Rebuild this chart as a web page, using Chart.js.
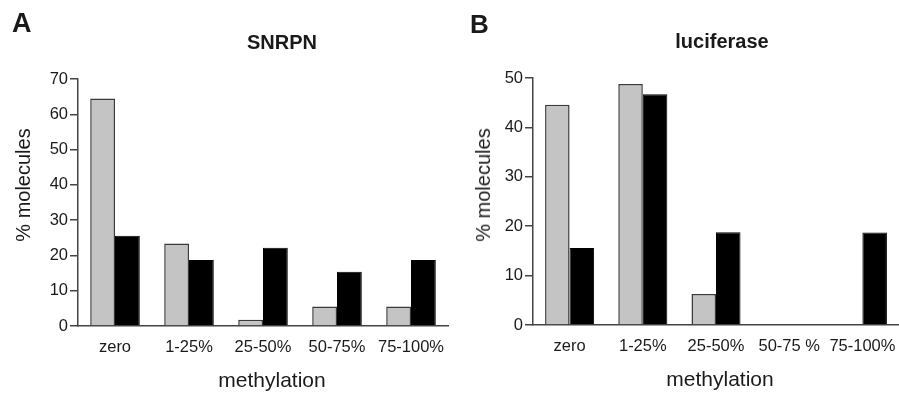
<!DOCTYPE html>
<html>
<head>
<meta charset="utf-8">
<script src="https://cdn.jsdelivr.net/npm/chart.js@4/dist/chart.umd.min.js"></script>
<style>
  html, body { margin: 0; padding: 0; background: #fff; }
  #wrap { position: relative; width: 899px; height: 393px; overflow: hidden; background: #fff; }
  .cv { position: absolute; top: 0; }
  .t { position: absolute; line-height: 1; white-space: nowrap; color: #1a1a1a; font-family: "Liberation Sans", Arial, sans-serif; }
  .b { font-weight: bold; }
</style>
</head>
<body>
<div id="wrap">
  <div class="cv" style="left:0;width:450px;height:393px;"><canvas id="cA" width="450" height="393"></canvas></div>
  <div class="cv" style="left:450px;width:449px;height:393px;"><canvas id="cB" width="449" height="393"></canvas></div>
  <div class="t b" style="left:12px;top:10px;font-size:27px;">A</div>
  <div class="t b" style="left:470px;top:11px;font-size:26px;">B</div>
  <div class="t b" style="left:282px;top:32px;font-size:20px;transform:translateX(-50%);">SNRPN</div>
  <div class="t b" style="left:722px;top:31px;font-size:20px;transform:translateX(-50%);">luciferase</div>
  <div class="t" style="left:272px;top:369px;font-size:21px;transform:translateX(-50%);">methylation</div>
  <div class="t" style="left:720px;top:368px;font-size:21px;transform:translateX(-50%);">methylation</div>
  <div class="t" style="left:23px;top:185px;font-size:20px;transform:translate(-50%,-50%) rotate(-90deg);">% molecules</div>
  <div class="t" style="left:483px;top:185px;font-size:20px;transform:translate(-50%,-50%) rotate(-90deg);">% molecules</div>
</div>
<script>
// ---- data ----
const categoriesA = ["zero", "1-25%", "25-50%", "50-75%", "75-100%"];
const categoriesB = ["zero", "1-25%", "25-50%", "50-75 %", "75-100%"];
const snrpnGray  = [64.5, 23.4, 1.8, 5.5, 5.5];
const snrpnBlack = [25.6, 18.7, 22.2, 15.4, 18.7];
const lucGray    = [44.6, 48.8, 6.3, 0, 0];
const lucBlack   = [15.6, 46.7, 18.8, 0, 18.7];
const yTicksA = [0, 10, 20, 30, 40, 50, 60, 70];
const yTicksB = [0, 10, 20, 30, 40, 50];

const FONT = '"Liberation Sans", Arial, sans-serif';
const GRAY_FILL = '#c4c4c4';
const EDGE = '#3a3a3a';

function makeChart(id, cats, gray, black, yTicks, geom) {
  const ctx = document.getElementById(id).getContext('2d');
  return new Chart(ctx, {
    type: 'bar',
    data: {
      labels: cats,
      datasets: [
        { label: 'gray', data: gray, backgroundColor: GRAY_FILL, borderColor: EDGE, borderWidth: 1.5,
          categoryPercentage: 0.67, barPercentage: 1.0 },
        { label: 'black', data: black, backgroundColor: '#000', borderColor: '#000', borderWidth: 1,
          categoryPercentage: 0.67, barPercentage: 1.0 }
      ]
    },
    options: {
      responsive: false,
      animation: false,
      devicePixelRatio: 1,
      layout: { padding: { left: 0, top: geom.top, right: geom.right, bottom: 0 } },
      plugins: { legend: { display: false }, tooltip: { enabled: false }, title: { display: false } },
      scales: {
        x: {
          grid: { display: false, drawTicks: false },
          border: { display: true, color: '#444', width: 1.5 },
          ticks: { color: '#1a1a1a', font: { family: FONT, size: 16.5 }, padding: 12, maxRotation: 0, autoSkip: false },
          afterFit(s) { s.height = geom.xh; s.paddingLeft = 0; s.paddingRight = 0; }
        },
        y: {
          min: yTicks[0], max: yTicks[yTicks.length - 1],
          afterBuildTicks(s) { s.ticks = yTicks.map(v => ({ value: v })); },
          grid: { display: true, drawOnChartArea: false, drawTicks: true, tickLength: 8, color: '#444', lineWidth: 1.5 },
          border: { display: true, color: '#444', width: 1.5 },
          ticks: { color: '#1a1a1a', font: { family: FONT, size: 16.5 }, padding: 2 },
          afterFit(s) { s.width = geom.yw; s.paddingTop = 0; s.paddingBottom = 0; }
        }
      }
    }
  });
}

makeChart('cA', categoriesA, snrpnGray, snrpnBlack, yTicksA, { top: 79, right: 2, xh: 67, yw: 78 });
makeChart('cB', categoriesB, lucGray, lucBlack, yTicksB, { top: 78, right: 0, xh: 68, yw: 83 });
</script>
</body>
</html>
